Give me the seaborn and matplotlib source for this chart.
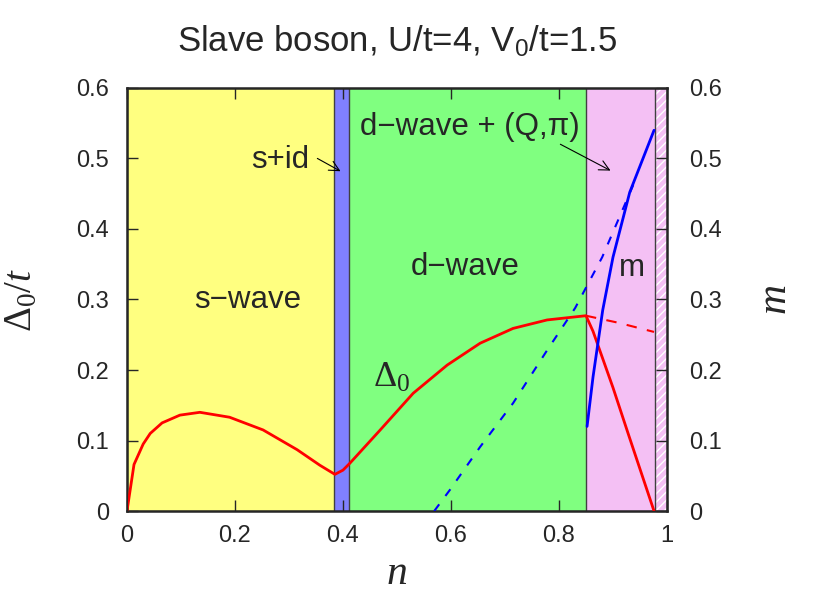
import numpy as np
import pandas as pd
import seaborn as sns
import matplotlib.pyplot as plt

sns.set_style("ticks")
plt.rcParams['font.family'] = ['Liberation Sans', 'DejaVu Sans']
plt.rcParams['mathtext.fontset'] = 'custom'
plt.rcParams['mathtext.rm'] = 'Liberation Serif'
plt.rcParams['mathtext.it'] = 'Liberation Serif:italic'
plt.rcParams['mathtext.sf'] = 'Liberation Sans'
plt.rcParams['hatch.color'] = 'white'
plt.rcParams['hatch.linewidth'] = 1.0

# phase boundaries in n
phase_edges = [0.0, 0.383, 0.411, 0.85, 0.978, 1.0]
phase_colors = ['#ffff80', '#8080ff', '#80ff80', '#f4c0f4', '#f4c0f4']

# Delta_0 / t  (solid red)
n_delta = [0.0, 0.013, 0.03, 0.043, 0.065, 0.098, 0.135, 0.19, 0.252, 0.315, 0.357,
           0.385, 0.40, 0.413, 0.469, 0.53, 0.593, 0.654, 0.715, 0.778, 0.85,
           0.863, 0.90, 0.928, 0.976]
delta = [0.0, 0.066, 0.095, 0.11, 0.125, 0.136, 0.140, 0.133, 0.115, 0.087, 0.065,
         0.052, 0.058, 0.068, 0.115, 0.167, 0.207, 0.238, 0.259, 0.271, 0.277,
         0.255, 0.175, 0.11, 0.0]

# Delta_0 / t continued in d-wave (dashed red)
n_delta_d = [0.85, 0.91, 0.976]
delta_d = [0.277, 0.267, 0.254]

# m (solid blue)
n_m = [0.852, 0.863, 0.881, 0.90, 0.931, 0.976]
m = [0.12, 0.19, 0.285, 0.36, 0.452, 0.54]

# m metastable (dashed blue)
n_m_d = [0.569, 0.598, 0.654, 0.715, 0.778, 0.83, 0.88, 0.944]
m_d = [0.0, 0.03, 0.091, 0.153, 0.228, 0.288, 0.36, 0.474]

fig = plt.figure(figsize=(8.3, 5.94), dpi=100)
ax = fig.add_axes([0.153, 0.1397, 0.6506, 0.7122])

for i in range(len(phase_colors)):
    if i == 4:
        ax.axvspan(phase_edges[i], phase_edges[i + 1], facecolor=phase_colors[i],
                   edgecolor='white', hatch='////', lw=0, zorder=0)
    else:
        ax.axvspan(phase_edges[i], phase_edges[i + 1], facecolor=phase_colors[i],
                   lw=0, zorder=0)
for e in phase_edges[1:-1]:
    ax.axvline(e, color='0.25', lw=1, zorder=1)

sns.lineplot(x=n_delta, y=delta, ax=ax, color='red', lw=2, sort=False, zorder=3)
sns.lineplot(x=n_delta_d, y=delta_d, ax=ax, color='red', lw=1.5, sort=False,
             zorder=3, linestyle=(0, (5, 5)))

ax.set_xlim(0, 1)
ax.set_ylim(0, 0.6)
ax.set_xticks([0, 0.2, 0.4, 0.6, 0.8, 1])
ax.set_xticklabels(['0', '0.2', '0.4', '0.6', '0.8', '1'])
ax.set_yticks(np.arange(0, 0.61, 0.1))
ax.set_yticklabels(['0', '0.1', '0.2', '0.3', '0.4', '0.5', '0.6'])
ax.tick_params(direction='in', length=8, width=1, labelsize=17, top=True)
ax.tick_params(axis='x', pad=10)
ax.tick_params(axis='y', pad=13)
for s in ax.spines.values():
    s.set_linewidth(1.8)
    s.set_visible(True)

ax2 = ax.twinx()
sns.lineplot(x=n_m, y=m, ax=ax2, color='blue', lw=2, sort=False)
sns.lineplot(x=n_m_d, y=m_d, ax=ax2, color='blue', lw=1.5, sort=False,
             linestyle=(0, (4, 5)))
ax2.set_ylim(0, 0.6)
ax2.set_yticks(np.arange(0, 0.61, 0.1))
ax2.set_yticklabels(['0', '0.1', '0.2', '0.3', '0.4', '0.5', '0.6'])
ax2.tick_params(direction='in', length=8, width=1, labelsize=17, pad=16)
ax2.set_xlim(0, 1)

ax.set_xlabel('$n$', fontsize=30)
ax.xaxis.set_label_coords(0.5, -0.10)
ax.set_ylabel(r'$\Delta_{\mathit{0}}/t$', fontsize=28)
ax.yaxis.set_label_coords(-0.162, 0.5)
ax2.set_ylabel('$m$', fontsize=30, rotation=90)
ax2.yaxis.set_label_coords(1.163, 0.5)
ax.set_title(r'Slave boson, U/t=4, V$_\mathsf{0}$/t=1.5', fontsize=25, pad=26)

ax2.text(0.224, 0.299, 's\u2212wave', fontsize=22.5, ha='center', va='center')
ax2.text(0.626, 0.346, 'd\u2212wave', fontsize=22.5, ha='center', va='center')
ax2.text(0.635, 0.545, 'd\u2212wave + (Q,\u03c0)', fontsize=22.5, ha='center', va='center')
ax2.text(0.283, 0.498, 's+id', fontsize=22.5, ha='center', va='center')
ax2.text(0.935, 0.345, 'm', fontsize=22.5, ha='center', va='center')
ax2.text(0.49, 0.19, r'$\Delta_0$', fontsize=26, ha='center', va='center')

ax2.annotate('', xy=(0.4, 0.480), xytext=(0.348, 0.502),
             arrowprops=dict(arrowstyle='->', color='black', lw=0.8,
                             mutation_scale=18))
ax2.annotate('', xy=(0.9, 0.481), xytext=(0.798, 0.522),
             arrowprops=dict(arrowstyle='->', color='black', lw=0.8,
                             mutation_scale=18))

fig.savefig('out.png', dpi=100)
